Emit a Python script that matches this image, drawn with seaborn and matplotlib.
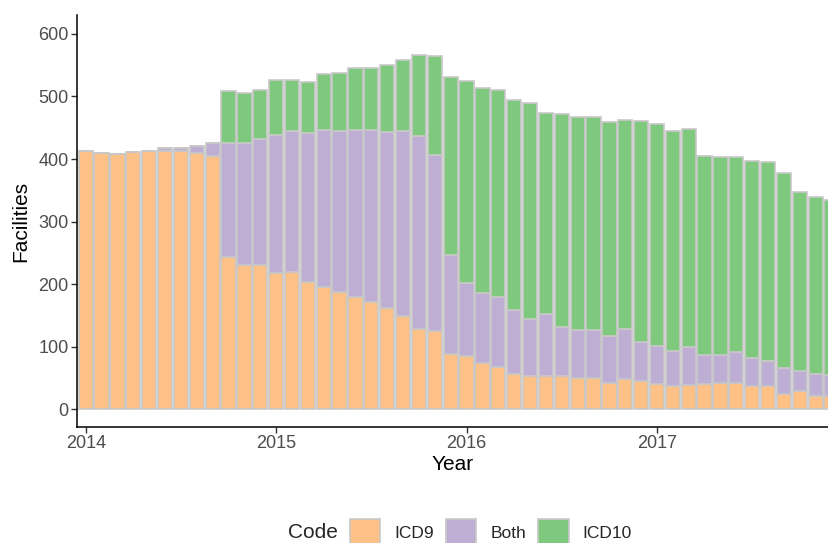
import numpy as np
import pandas as pd
import matplotlib
matplotlib.use("Agg")
import matplotlib.pyplot as plt
import seaborn as sns
from matplotlib.patches import Patch

# ---- data (monthly, Jan 2014 .. Dec 2017) ----
months = pd.date_range("2014-01-01", periods=48, freq="MS")
icd9 = [412, 410, 408, 411, 413, 413, 413, 410, 405, 243, 231, 230,
        218, 219, 204, 196, 187, 179, 172, 162, 150, 129, 126, 88,
        85, 74, 68, 57, 53, 54, 53, 50, 51, 42, 48, 45,
        41, 37, 39, 41, 42, 42, 38, 38, 25, 30, 21, 21]
both = [0, 0, 0, 0, 0, 5, 5, 10, 21, 182, 195, 202,
        221, 225, 237, 250, 258, 267, 274, 281, 295, 307, 281, 158,
        117, 112, 111, 102, 91, 99, 79, 77, 76, 75, 80, 62,
        61, 56, 61, 46, 45, 49, 44, 39, 41, 32, 36, 34]
icd10 = [0, 0, 0, 0, 0, 0, 0, 0, 0, 84, 79, 79,
         87, 82, 82, 90, 93, 100, 100, 107, 113, 130, 158, 285,
         323, 328, 331, 336, 345, 321, 340, 340, 340, 342, 335, 353,
         354, 352, 348, 318, 317, 312, 315, 318, 311, 286, 282, 280]
codes = ["ICD9", "Both", "ICD10"]
colors = {"ICD9": "#FDC086", "Both": "#BEAED4", "ICD10": "#7FC97F"}
year_labels = ["2014", "2015", "2016", "2017"]

sns.set_theme(style="ticks")
plt.rcParams["font.family"] = ["Liberation Sans", "DejaVu Sans"]

month_idx = np.arange(len(months))
frames = []
for code, vals in zip(codes, [icd9, both, icd10]):
    frames.append(pd.DataFrame({"idx": month_idx, "Code": code, "Facilities": vals}))
df = pd.concat(frames, ignore_index=True)
df = df[df["Facilities"] > 0]

W, H = 829, 543
fig = plt.figure(figsize=(W / 100, H / 100), dpi=100)
ax = fig.add_axes([77 / W, (H - 427) / H, 1 - 77 / W, (427 - 15) / H])

edge = "#C8C8C8"
sns.histplot(data=df, x="idx", weights="Facilities", hue="Code",
             hue_order=["ICD10", "Both", "ICD9"], palette=colors,
             multiple="stack", discrete=True, shrink=0.9,
             edgecolor=edge, linewidth=1.2, alpha=1, legend=False, ax=ax)

ax.set_xlim(-0.55, 46.84)
ax.set_ylim(-28, 630)
ax.set_yticks([0, 100, 200, 300, 400, 500, 600])
jan_pos = [i for i, m in enumerate(months) if m.month == 1]
ax.set_xticks(jan_pos)
ax.set_xticklabels(year_labels)

sns.despine(ax=ax)
for s in ["left", "bottom"]:
    ax.spines[s].set_color("black")
    ax.spines[s].set_linewidth(1.1)
ax.tick_params(axis="both", length=4, width=1.0, color="#333333",
               labelsize=13, labelcolor="#4D4D4D", pad=2)
ax.set_xlabel("Year", fontsize=15, color="black", labelpad=2)
ax.set_ylabel("Facilities", fontsize=15, color="black", labelpad=6)

# legend at bottom, title on the left
fig.text(288 / W, 1 - 532 / H, "Code", fontsize=15, va="center", ha="left")
handles = [Patch(facecolor=colors[c], edgecolor=edge, linewidth=1.2) for c in codes]
fig.legend(handles, codes, ncol=3, loc="center left",
           bbox_to_anchor=(350 / W, 1 - 533 / H), frameon=False,
           fontsize=12.5, handlelength=1.75, handleheight=2.1,
           handletextpad=0.8, columnspacing=0.7, borderpad=0, borderaxespad=0)

fig.savefig("out.png", dpi=100)
